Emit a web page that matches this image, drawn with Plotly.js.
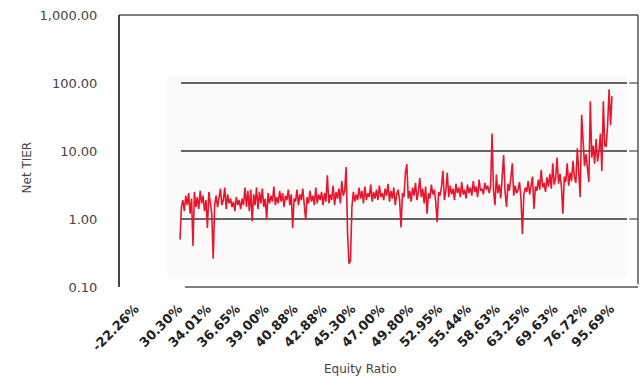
<!DOCTYPE html>
<html><head><meta charset="utf-8">
<script src="https://cdn.plot.ly/plotly-3.0.1.min.js"></script>
<style>html,body{margin:0;padding:0;background:#fff}</style>
</head><body><div id="chart" style="width:640px;height:379px"></div>
<script>
// Net TIER values, sorted by equity ratio
const netTier = [
  0.50,1.50,1.90,1.30,2.20,1.60,2.40,1.20,2.00,0.40,2.50,1.50,2.10,1.40,2.60,1.70,2.20,1.30,1.90,0.74,
  2.50,1.80,1.20,0.26,1.60,2.20,1.50,2.00,2.80,1.60,1.90,2.90,1.40,2.30,1.70,2.00,1.50,1.80,1.30,2.10,
  1.60,1.90,1.40,2.00,1.60,2.90,1.50,2.60,1.30,2.70,0.93,2.30,1.60,2.90,1.40,2.50,1.70,2.80,1.50,2.00,
  1.00,2.40,1.70,2.20,1.80,3.00,1.60,2.10,1.70,2.60,1.80,2.40,1.50,2.20,1.90,2.70,1.60,2.30,0.74,2.00,
  1.80,2.70,1.60,2.30,1.90,2.80,1.50,0.97,2.10,1.70,2.60,1.80,2.20,1.60,2.90,1.70,2.30,1.90,2.50,1.60,
  2.40,1.80,4.40,1.70,2.30,1.90,3.10,1.60,2.50,2.00,2.80,1.70,3.60,2.20,2.60,5.80,0.60,0.22,0.24,1.50,
  2.50,1.80,2.30,1.90,2.90,2.00,2.60,1.70,3.00,1.90,2.40,2.10,3.20,1.80,2.50,2.00,2.70,1.90,3.10,2.10,
  2.40,1.90,2.80,2.20,3.30,1.80,2.60,2.00,2.90,1.60,2.30,2.70,1.90,0.75,2.40,2.10,4.70,6.40,2.00,2.60,
  1.80,2.90,2.20,3.40,1.90,2.50,4.00,2.10,2.80,1.70,3.00,1.20,2.40,2.00,3.20,2.30,2.70,1.80,0.90,2.50,
  2.20,3.00,5.10,1.90,2.60,4.80,2.10,3.10,2.30,2.80,1.90,3.30,2.40,2.90,2.10,3.50,2.30,2.70,2.00,3.20,
  2.40,2.90,2.20,3.60,2.50,3.00,2.10,3.80,2.60,2.80,2.30,3.40,2.70,3.10,2.40,3.00,18.0,2.60,1.60,4.50,
  2.40,3.20,2.00,4.40,8.70,2.50,1.50,3.30,2.60,4.00,6.60,2.20,3.10,2.40,2.70,3.50,2.00,0.60,2.30,2.90,
  2.50,3.60,2.30,3.10,4.20,1.40,3.00,2.60,3.80,2.70,5.30,2.90,3.40,2.50,4.10,3.00,4.60,2.80,6.60,3.20,
  4.00,8.00,3.30,4.60,3.00,1.20,4.20,3.50,6.60,3.10,4.80,3.60,7.20,4.10,3.40,11.0,5.00,2.10,34.0,14.0,
  6.00,9.00,5.50,3.50,54.0,8.00,12.0,6.50,15.0,7.00,10.0,18.0,5.10,54.0,12.0,11.8,25.0,81.0,24.0,64.0
];
const equityTickIndex = [-31,-1,19,39,59,79,99,119,139,159,179,199,219,239,259,279,298];
const equityTickLabels = ["-22.26%","30.30%","34.01%","36.65%","39.00%","40.88%","42.88%","45.30%",
  "47.00%","49.80%","52.95%","55.44%","58.63%","63.25%","69.63%","76.72%","95.69%"];
const yTickVals = [0.1,1,10,100,1000];
const yTickLabels = ["0.10","1.00","10.00","100.00","1,000.00"];
const gridLevels = [1,10,100];

const xIdx = netTier.map((_, i) => i);

const shapes = [
  {type:'rect', xref:'paper', yref:'paper', x0:0.0925, x1:0.9788, y0:0.03, y1:0.78,
   fillcolor:'#fafafa', line:{width:0}, layer:'below'},
  {type:'line', xref:'paper', yref:'paper', x0:0, x1:1, y0:1, y1:1, line:{color:'#555', width:1.5}},
  {type:'line', xref:'paper', yref:'paper', x0:1, x1:1, y0:0.01, y1:1, line:{color:'#555', width:1.5}},
  {type:'line', xref:'paper', yref:'paper', x0:0.127, x1:1, y0:0, y1:0, line:{color:'#555', width:1.5}},
  {type:'line', xref:'paper', yref:'paper', x0:0, x1:0, y0:0, y1:1, line:{color:'#444', width:2}}
];
gridLevels.forEach(v => {
  shapes.push({type:'line', xref:'paper', yref:'y', x0:0.1195, x1:0.9788, y0:v, y1:v,
    line:{color:'#333', width:1.3}, layer:'below'});
  shapes.push({type:'line', xref:'paper', yref:'y', x0:0.983, x1:1.0, y0:v, y1:v,
    line:{color:'#555', width:1.3}});
});

const data = [{
  x: xIdx, y: netTier, type:'scatter', mode:'lines',
  line:{color:'#e8162c', width:1.6}, hoverinfo:'skip'
}];

const layout = {
  width:640, height:379,
  margin:{l:119, r:2, t:15, b:92},
  paper_bgcolor:'#fff', plot_bgcolor:'rgba(0,0,0,0)',
  showlegend:false,
  xaxis:{
    range:[-42.2, 317.0], showgrid:false, zeroline:false, showline:false,
    tickmode:'array', tickvals:equityTickIndex, ticktext:equityTickLabels,
    tickangle:-45, ticks:'outside', ticklen:8, tickcolor:'rgba(0,0,0,0)',
    tickfont:{family:'DejaVu Sans', size:13, color:'#222', weight:'bold'}
  },
  yaxis:{
    type:'log', range:[-1, 3], showgrid:false, zeroline:false, showline:false,
    tickmode:'array', tickvals:yTickVals, ticktext:yTickLabels,
    ticks:'outside', ticklen:18, tickcolor:'rgba(0,0,0,0)',
    tickfont:{family:'DejaVu Sans', size:13, color:'#444'}
  },
  shapes: shapes,
  annotations:[
    {text:'Net TIER', xref:'paper', yref:'paper', x:-0.177, y:0.44, textangle:-90,
     xanchor:'center', yanchor:'middle',
     showarrow:false, font:{family:'DejaVu Sans', size:12, color:'#444'}},
    {text:'Equity Ratio', xref:'paper', yref:'paper', x:0.466, y:-0.3015,
     xanchor:'center', yanchor:'middle',
     showarrow:false, font:{family:'DejaVu Sans', size:12, color:'#444'}}
  ]
};

Plotly.newPlot('chart', data, layout, {displayModeBar:false, staticPlot:true});
</script>
</body></html>
